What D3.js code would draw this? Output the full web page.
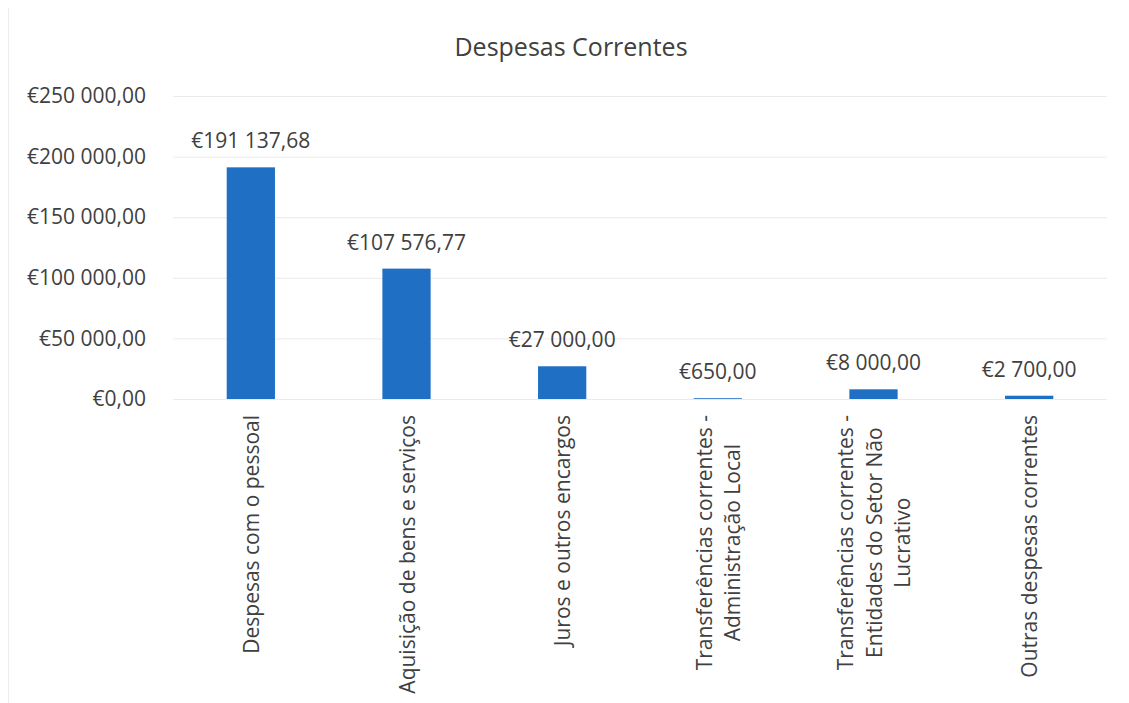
<!DOCTYPE html>
<meta charset="utf-8">
<style>
body { margin: 0; background: #fff; }
svg text { font-family: "Open Sans", sans-serif; fill: #404040; }
.grid line { stroke: #ebebeb; stroke-width: 1px; }
.grid path { display: none; }
.bar { fill: #1f6fc5; }
</style>
<body>
<svg width="1129" height="703"></svg>
<script src="https://cdn.jsdelivr.net/npm/d3@7"></script>
<script>
var title = "Despesas Correntes";

var categories = [
  "Despesas com o pessoal",
  "Aquisição de bens e serviços",
  "Juros e outros encargos",
  "Transferências correntes - Administração Local",
  "Transferências correntes - Entidades do Setor Não Lucrativo",
  "Outras despesas correntes"
];

// how the category labels wrap in the picture
var labelLines = [
  ["Despesas com o pessoal"],
  ["Aquisição de bens e serviços"],
  ["Juros e outros encargos"],
  ["Transferências correntes -", "Administração Local"],
  ["Transferências correntes -", "Entidades do Setor Não", "Lucrativo"],
  ["Outras despesas correntes"]
];

var values = [191137.68, 107576.77, 27000, 650, 8000, 2700];

var yTicks = [0, 50000, 100000, 150000, 200000, 250000];

var locale = d3.formatLocale({
  decimal: ",",
  thousands: "\u00a0",
  grouping: [3],
  currency: ["€", ""]
});
var money = locale.format("$,.2f");

var svg = d3.select("svg"),
    margin = {top: 96, right: 22, bottom: 304, left: 173},
    width = +svg.attr("width") - margin.left - margin.right,
    height = +svg.attr("height") - margin.top - margin.bottom,
    g = svg.append("g").attr("transform", "translate(" + margin.left + "," + margin.top + ")");

// faint chart border on the left
svg.append("line")
    .attr("x1", 8.5).attr("x2", 8.5)
    .attr("y1", 8).attr("y2", 703)
    .attr("stroke", "#ececec");

var x = d3.scaleBand()
    .domain(categories)
    .range([0, width])
    .paddingInner(0.69)
    .paddingOuter(0.345);

var y = d3.scaleLinear()
    .domain([0, 250000])
    .range([height, 0]);

svg.append("text")
    .attr("x", 571)
    .attr("y", 56)
    .attr("text-anchor", "middle")
    .style("font-size", "25px")
    .text(title);

g.append("g")
    .attr("class", "grid")
    .call(d3.axisLeft(y).tickValues(yTicks).tickSize(-width).tickFormat(""));

var yAxis = g.append("g")
    .call(d3.axisLeft(y).tickValues(yTicks).tickSize(0).tickPadding(27).tickFormat(money));
yAxis.select(".domain").remove();
yAxis.selectAll("text")
    .style("font-family", "Open Sans, sans-serif")
    .style("font-size", "21px")
    .attr("fill", "#404040");

g.selectAll(".bar")
    .data(values)
    .enter().append("rect")
      .attr("class", "bar")
      .attr("x", function(d, i) { return x(categories[i]); })
      .attr("width", x.bandwidth())
      .attr("y", function(d) { return y(d); })
      .attr("height", function(d) { return height - y(d); });

g.selectAll(".value")
    .data(values)
    .enter().append("text")
      .attr("class", "value")
      .attr("x", function(d, i) { return x(categories[i]) + x.bandwidth() / 2; })
      .attr("y", function(d) { return y(d) - 19; })
      .attr("text-anchor", "middle")
      .style("font-size", "21px")
      .text(function(d) { return money(d); });

// rotated category labels, top aligned, lines centred in their block
var lineGap = 28.5, labelTop = height + 16;
labelLines.forEach(function(lines, i) {
  var cx = x(categories[i]) + x.bandwidth() / 2;
  var grp = g.append("g");
  var texts = lines.map(function(s, j) {
    return grp.append("text")
      .attr("text-anchor", "middle")
      .attr("dominant-baseline", "central")
      .style("font-size", "21px")
      .text(s);
  });
  var maxW = d3.max(texts, function(t) { return t.node().getComputedTextLength(); });
  texts.forEach(function(t, j) {
    var lx = cx + (j - (lines.length - 1) / 2) * lineGap;
    t.attr("transform", "translate(" + lx + "," + (labelTop + maxW / 2) + ") rotate(-90)");
  });
});
</script>
</body>
